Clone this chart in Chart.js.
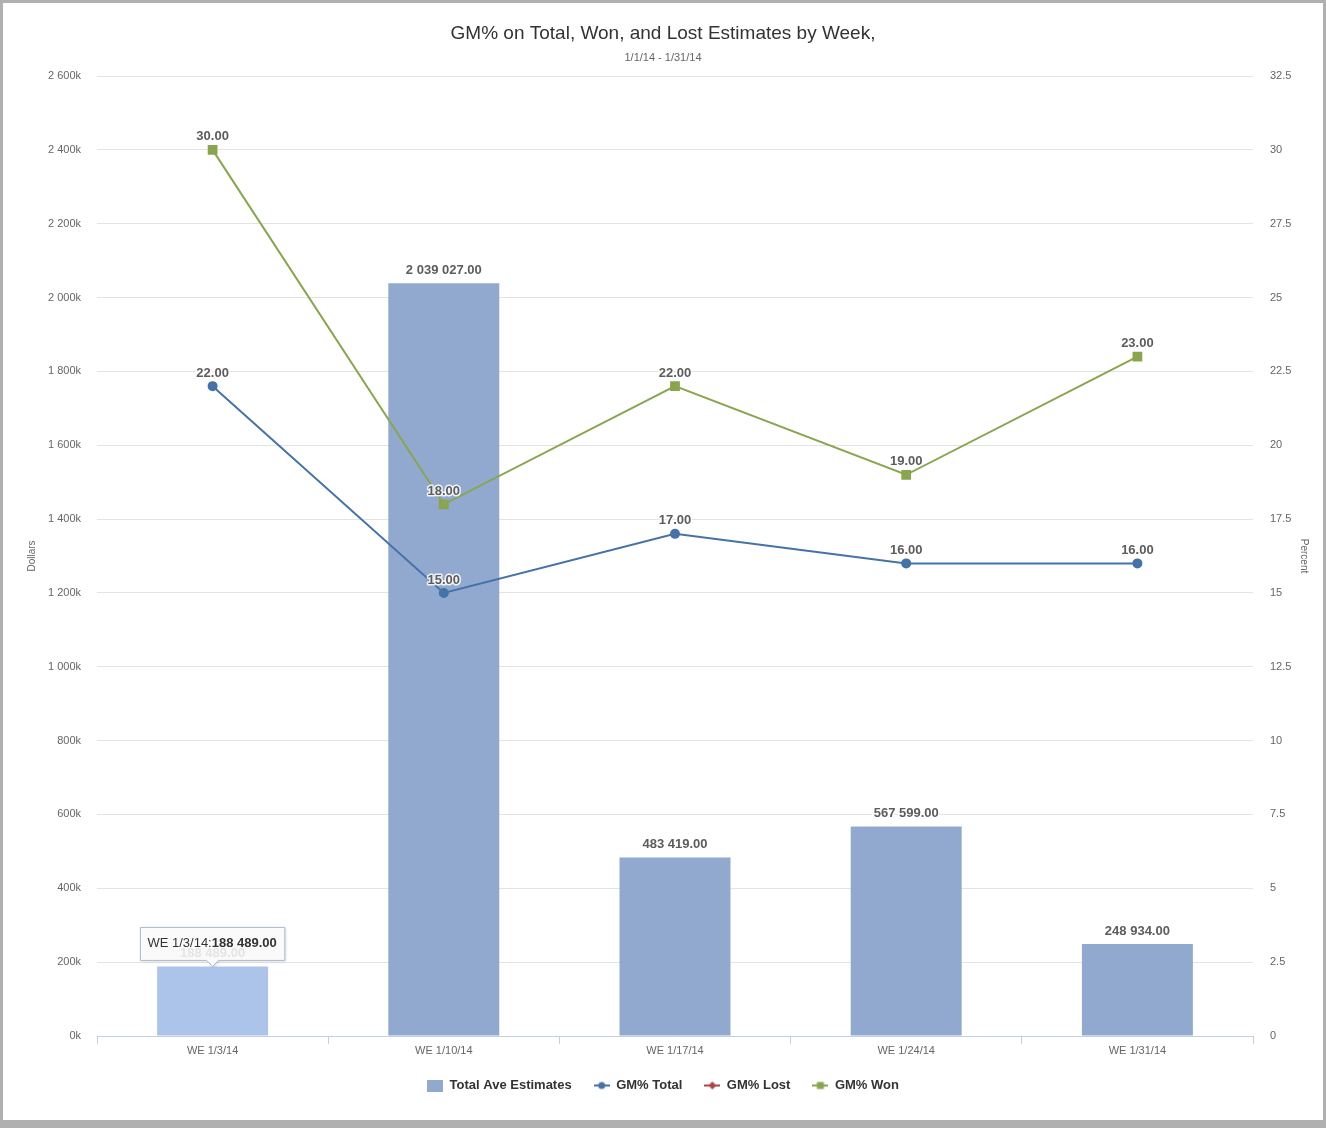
<!DOCTYPE html>
<html><head><meta charset="utf-8">
<script src="https://cdn.jsdelivr.net/npm/chart.js@4"></script>
<style>
html,body{margin:0;padding:0;background:#fff;}
#frame{position:absolute;left:0;top:0;width:1326px;height:1128px;background:#b0b0b0;}
#inner{position:absolute;left:3px;top:3px;width:1320px;height:1117px;background:#fff;}
canvas{display:block}
</style></head><body>
<div id="frame"><div id="inner"><canvas id="c" width="1320" height="1117"></canvas></div></div>
<script>
const categories = ['WE 1/3/14','WE 1/10/14','WE 1/17/14','WE 1/24/14','WE 1/31/14'];
const totalAveEstimates = [188489, 2039027, 483419, 567599, 248934];
const gmTotal = [22, 15, 17, 16, 16];
const gmLost = [null, null, null, null, null];
const gmWon = [30, 18, 22, 19, 23];
const hoveredIndex = 0;

const FONT = '"Liberation Sans", Arial, Helvetica, sans-serif';

function fmtSpace(v, dec) {
  const s = Number(v).toFixed(dec);
  const parts = s.split('.');
  parts[0] = parts[0].replace(/\B(?=(\d{3})+(?!\d))/g, ' ');
  return parts.join('.');
}

function legendIcon(color, kind) {
  const c = document.createElement('canvas');
  c.width = 16; c.height = 12;
  const x = c.getContext('2d');
  if (kind === 'bar') {
    x.fillStyle = color; x.fillRect(0, 0, 16, 12);
  } else {
    x.strokeStyle = color; x.lineWidth = 2;
    x.beginPath(); x.moveTo(0, 6); x.lineTo(16, 6); x.stroke();
    x.fillStyle = color;
    if (kind === 'circle') { x.beginPath(); x.arc(8, 6, 3.5, 0, Math.PI * 2); x.fill(); }
    else if (kind === 'rect') { x.fillRect(4.5, 2.5, 7, 7); }
    else { x.beginPath(); x.moveTo(8, 2); x.lineTo(12, 6); x.lineTo(8, 10); x.lineTo(4, 6); x.closePath(); x.fill(); }
  }
  return c;
}

const barColor = '#91a9cf';
const barHover = '#adc4ea';
const blue = '#4572a7';
const red = '#aa4643';
const green = '#89a54e';

const icons = [legendIcon(barColor, 'bar'), legendIcon(blue, 'circle'), legendIcon(red, 'diamond'), legendIcon(green, 'rect')];

const dataLabels = {
  id: 'dataLabels',
  afterDatasetsDraw(chart) {
    const ctx = chart.ctx;
    ctx.save();
    ctx.font = 'bold 13px ' + FONT;
    ctx.textAlign = 'center';
    ctx.textBaseline = 'middle';
    ctx.lineJoin = 'round';
    chart.data.datasets.forEach((ds, di) => {
      const meta = chart.getDatasetMeta(di);
      meta.data.forEach((el, i) => {
        const v = ds.data[i];
        if (v === null || v === undefined) return;
        const txt = fmtSpace(v, 2);
        const y = el.y - 13;
        ctx.strokeStyle = 'rgba(255,255,255,0.85)';
        ctx.lineWidth = 3;
        ctx.strokeText(txt, el.x, y);
        ctx.fillStyle = '#5c5c5c';
        ctx.fillText(txt, el.x, y);
      });
    });
    ctx.restore();
  }
};

const staticTooltip = {
  id: 'staticTooltip',
  afterDraw(chart) {
    const ctx = chart.ctx;
    const el = chart.getDatasetMeta(0).data[hoveredIndex];
    const label = categories[hoveredIndex] + ':';
    const value = fmtSpace(totalAveEstimates[hoveredIndex], 2);
    ctx.save();
    ctx.font = '13px ' + FONT;
    const w1 = ctx.measureText(label).width;
    ctx.font = 'bold 13px ' + FONT;
    const w2 = ctx.measureText(value).width;
    const w = w1 + w2 + 15;
    const h = 33;
    const tipY = el.y;
    const bottom = tipY - 6;
    const top = bottom - h;
    const left = el.x - w / 2;
    ctx.shadowColor = 'rgba(0,0,0,0.18)';
    ctx.shadowBlur = 3;
    ctx.shadowOffsetX = 1;
    ctx.shadowOffsetY = 1;
    ctx.beginPath();
    ctx.moveTo(left, top);
    ctx.lineTo(left + w, top);
    ctx.lineTo(left + w, bottom);
    ctx.lineTo(el.x + 6, bottom);
    ctx.lineTo(el.x, tipY);
    ctx.lineTo(el.x - 6, bottom);
    ctx.lineTo(left, bottom);
    ctx.closePath();
    ctx.fillStyle = 'rgba(255,255,255,0.85)';
    ctx.fill();
    ctx.shadowColor = 'transparent';
    ctx.strokeStyle = '#a9b8d2';
    ctx.lineWidth = 1;
    ctx.stroke();
    ctx.textBaseline = 'middle';
    ctx.textAlign = 'left';
    ctx.fillStyle = '#333';
    ctx.font = '13px ' + FONT;
    ctx.fillText(label, left + 7, top + h / 2);
    ctx.font = 'bold 13px ' + FONT;
    ctx.fillText(value, left + 7 + w1, top + h / 2);
    ctx.restore();
  }
};

new Chart(document.getElementById('c'), {
  data: {
    labels: categories,
    datasets: [
      { type: 'bar', label: 'Total Ave Estimates', data: totalAveEstimates, yAxisID: 'y',
        backgroundColor: categories.map((c, i) => i === hoveredIndex ? barHover : barColor),
        barPercentage: 0.48, categoryPercentage: 1.0, order: 2 },
      { type: 'line', label: 'GM% Total', data: gmTotal, yAxisID: 'y1', borderColor: blue, backgroundColor: blue,
        borderWidth: 2, pointRadius: 4, pointStyle: 'circle', tension: 0, order: 1 },
      { type: 'line', label: 'GM% Lost', data: gmLost, yAxisID: 'y1', borderColor: red, backgroundColor: red,
        borderWidth: 2, pointRadius: 4, pointStyle: 'rectRot', tension: 0, order: 1 },
      { type: 'line', label: 'GM% Won', data: gmWon, yAxisID: 'y1', borderColor: green, backgroundColor: green,
        borderWidth: 2, pointRadius: 5.5, pointStyle: 'rect', tension: 0, order: 1 }
    ]
  },
  options: {
    responsive: false,
    animation: false,
    events: [],
    layout: { padding: { left: 0, right: 0, top: 0, bottom: 18 } },
    plugins: {
      title: { display: true, text: 'GM% on Total, Won, and Lost Estimates by Week,', color: '#333',
        font: { family: FONT, size: 19, weight: 'normal' }, padding: { top: 19, bottom: 7 } },
      subtitle: { display: true, text: '1/1/14 - 1/31/14', color: '#666',
        font: { family: FONT, size: 11, weight: 'normal' }, padding: { top: 0, bottom: 11 } },
      legend: {
        position: 'bottom',
        labels: {
          usePointStyle: true, pointStyleWidth: 16, boxHeight: 12, padding: 22,
          color: '#333', font: { family: FONT, size: 13, weight: 'bold' },
          generateLabels(chart) {
            return chart.data.datasets.map((ds, i) => ({
              text: ds.label, pointStyle: icons[i], fillStyle: 'transparent', strokeStyle: 'transparent',
              lineWidth: 0, hidden: false, datasetIndex: i, fontColor: '#333'
            }));
          }
        }
      },
      tooltip: { enabled: false }
    },
    scales: {
      x: {
        offset: true,
        grid: { display: true, offset: true, drawOnChartArea: false, drawTicks: true, tickLength: 8, color: '#c0d0e0' },
        border: { display: true, color: '#c0d0e0' },
        ticks: { color: '#666', font: { family: FONT, size: 11 }, padding: 0, maxRotation: 0 },
        afterFit(s) { s.height = 21; }
      },
      y: {
        position: 'left', min: 0, max: 2600000,
        ticks: { stepSize: 200000, color: '#666', font: { family: FONT, size: 11 }, padding: 16,
          callback: v => fmtSpace(v / 1000, 0) + 'k' },
        grid: { color: '#e3e3e3', drawTicks: false },
        border: { display: false },
        title: { display: true, text: 'Dollars', color: '#666', font: { family: FONT, size: 10 }, padding: { top: 23, bottom: 0 } },
        afterFit(s) { s.width = 94; }
      },
      y1: {
        position: 'right', min: 0, max: 32.5,
        ticks: { stepSize: 2.5, color: '#666', font: { family: FONT, size: 11 }, padding: 17,
          callback: v => String(v) },
        grid: { drawOnChartArea: false, drawTicks: false },
        border: { display: false },
        title: { display: true, text: 'Percent', color: '#666', font: { family: FONT, size: 10 }, padding: { top: 13, bottom: 0 } },
        afterFit(s) { s.width = 70; }
      }
    }
  },
  plugins: [dataLabels, staticTooltip]
});
</script>
</body></html>
